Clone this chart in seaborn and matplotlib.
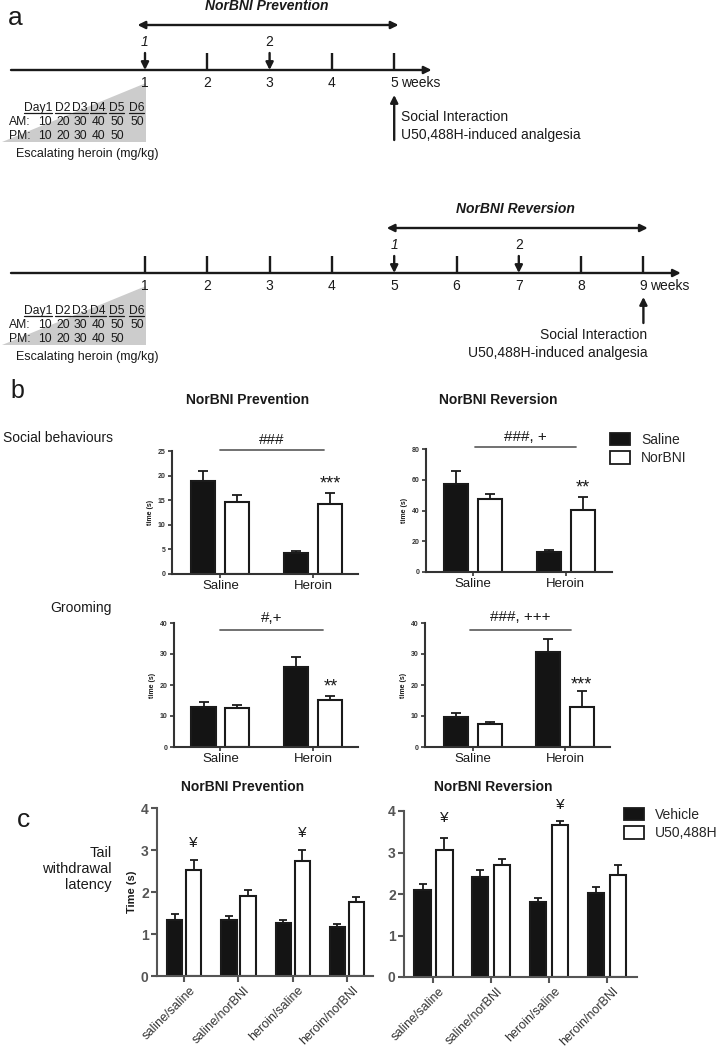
import matplotlib
matplotlib.use('Agg')
import matplotlib.pyplot as plt
import pandas as pd
import seaborn as sns
from matplotlib.patches import Patch
from matplotlib.transforms import Affine2D, ScaledTranslation

W, H = 717, 1050

# ---- a: treatment schedules ----
prev_weeks = [1, 2, 3, 4, 5]
prev_inj = [1, 3]
rev_weeks = [1, 2, 3, 4, 5, 6, 7, 8, 9]
rev_inj = [5, 7]
day_labels = ['Day1', 'D2', 'D3', 'D4', 'D5', 'D6']
am_mgkg = [10, 20, 30, 40, 50, 50]
pm_mgkg = [10, 20, 30, 40, 50]

# ---- b: social interaction ----
b_groups = ['Saline', 'Heroin']
b_treat = ['Saline', 'NorBNI']
soc_prev_sal = [18.9, 4.2]
soc_prev_sal_err = [2.0, 0.5]
soc_prev_nor = [14.7, 14.2]
soc_prev_nor_err = [1.3, 2.3]
soc_rev_sal = [57.1, 12.8]
soc_rev_sal_err = [8.8, 1.3]
soc_rev_nor = [47.6, 40.4]
soc_rev_nor_err = [3.2, 8.5]
groom_prev_sal = [13.0, 25.7]
groom_prev_sal_err = [1.6, 3.2]
groom_prev_nor = [12.7, 15.3]
groom_prev_nor_err = [0.7, 1.1]
groom_rev_sal = [9.8, 30.5]
groom_rev_sal_err = [1.3, 4.3]
groom_rev_nor = [7.4, 13.0]
groom_rev_nor_err = [0.6, 5.0]

# ---- c: tail withdrawal ----
c_groups = ['saline/saline', 'saline/norBNI', 'heroin/saline', 'heroin/norBNI']
c_treat = ['Vehicle', 'U50,488H']
tail_prev_veh = [1.33, 1.33, 1.27, 1.17]
tail_prev_veh_err = [0.14, 0.10, 0.06, 0.07]
tail_prev_u50 = [2.52, 1.90, 2.74, 1.76]
tail_prev_u50_err = [0.25, 0.14, 0.25, 0.11]
tail_rev_veh = [2.10, 2.42, 1.80, 2.02]
tail_rev_veh_err = [0.14, 0.17, 0.11, 0.16]
tail_rev_u50 = [3.06, 2.70, 3.67, 2.46]
tail_rev_u50_err = [0.30, 0.14, 0.09, 0.24]

sns.set_style('ticks')
plt.rcParams['font.family'] = ['Liberation Sans', 'DejaVu Sans']
INK = '#1a1a1a'
AX = '#333333'

fig = plt.figure(figsize=(W / 100, H / 100), dpi=100)
pix = Affine2D().scale(1 / 100, -1 / 100).translate(0, H / 100) + fig.dpi_scale_trans


def box(x0, y0, x1, y1):
    return [x0 / W, 1 - y1 / H, (x1 - x0) / W, (y1 - y0) / H]


def ftext(x, y, s, **kw):
    kw.setdefault('color', INK)
    return fig.text(x, y, s, transform=pix, **kw)


# ================= panel a =================
PXW = 62.3
ax_a = fig.add_axes(box(0, 0, W, 380))
ax_a.set_xlim(1 - 145 / PXW, 1 + (W - 145) / PXW)
ax_a.set_ylim(380, 0)
ax_a.axis('off')


def arrow(ax, x0, y0, x1, y1, style='-|>'):
    ax.annotate('', xy=(x1, y1), xytext=(x0, y0),
                arrowprops=dict(arrowstyle=style, color=INK, lw=1.7, shrinkA=0,
                                shrinkB=0, mutation_scale=11))


headers = []


def timeline(ax, weeks, inj, dy, title, side):
    y = 70 + dy
    arrow(ax, 1 + (11 - 145) / PXW, y, weeks[-1] + 0.6, y)
    ax.vlines([w for w in weeks if w not in inj], 53 + dy, y, color=INK, lw=1.7)
    for i, w in enumerate(inj):
        arrow(ax, w, 53 + dy, w, y)
        ax.text(w, 42 + dy, str(i + 1), ha='center', va='center', fontsize=10,
                style='italic' if i == 0 else 'normal', color=INK)
    for w in weeks:
        ax.text(w, 83 + dy, str(w), ha='center', va='center', fontsize=10, color=INK)
    ax.text(weeks[-1] + 0.11, 83 + dy, 'weeks', ha='left', va='center', fontsize=10,
            color=INK)
    arrow(ax, inj[0] - 0.12, 25 + dy, weeks[-1] + 0.07, 25 + dy, '<|-|>')
    ax.text((inj[0] + weeks[-1]) / 2 - 0.05, 6 + dy, title, ha='center', va='center',
            fontsize=10, fontweight='bold', style='italic', color=INK)
    # escalating heroin wedge and table
    ax.fill([-1.3, 1.02, 1.02], [142 + dy, 142 + dy, 83 + dy], color='#cccccc', lw=0)
    cols = [1 + o / PXW for o in (-93, -74.5, -57.5, -39.5, -21, -1)]
    for x, d in zip(cols, day_labels):
        headers.append(ax.text(x, 108 + dy, d, ha='right', va='center', fontsize=8.7,
                               color=INK))
    ax.text(1 + (9 - 145) / PXW, 122 + dy, 'AM:', ha='left', va='center', fontsize=8.7,
            color=INK)
    ax.text(1 + (9 - 145) / PXW, 136 + dy, 'PM:', ha='left', va='center', fontsize=8.7,
            color=INK)
    for x, v in zip(cols, am_mgkg):
        ax.text(x, 122 + dy, str(v), ha='right', va='center', fontsize=8.7, color=INK)
    for x, v in zip(cols, pm_mgkg):
        ax.text(x, 136 + dy, str(v), ha='right', va='center', fontsize=8.7, color=INK)
    ax.text(1 + (16 - 145) / PXW, 154 + dy, 'Escalating heroin (mg/kg)', ha='left',
            va='center', fontsize=9, color=INK)
    last = weeks[-1]
    if side == 'right':
        arrow(ax, last, 140, last, 95)
        ax.text(last + 0.11, 117, 'Social Interaction', ha='left', va='center',
                fontsize=10, color=INK)
        ax.text(last + 0.11, 135, 'U50,488H-induced analgesia', ha='left', va='center',
                fontsize=10, color=INK)
    else:
        arrow(ax, last, 323, last, 297)
        ax.text(last + 0.065, 335, 'Social Interaction', ha='right', va='center',
                fontsize=10, color=INK)
        ax.text(last + 0.065, 353, 'U50,488H-induced analgesia', ha='right',
                va='center', fontsize=10, color=INK)


timeline(ax_a, prev_weeks, prev_inj, 0, 'NorBNI Prevention', 'right')
timeline(ax_a, rev_weeks, rev_inj, 203, 'NorBNI Reversion', 'left')
ftext(8, 25, 'a', fontsize=19, va='baseline')


# ================= bar panels =================
def bar_panel(px, groups, treat, means, errs, ylim, yticks, xlim, width, gap, cap):
    ax = fig.add_axes(box(*px))
    n = len(groups)
    df = pd.DataFrame({'group': groups * 2,
                       'treat': [treat[0]] * n + [treat[1]] * n,
                       'value': list(means[0]) + list(means[1])})
    sns.barplot(data=df, x='group', y='value', hue='treat', order=groups,
                hue_order=treat, palette=['#141414', 'white'], edgecolor=INK,
                linewidth=1.5, width=width, gap=gap, errorbar=None, legend=False,
                ax=ax)
    for bars, e in zip(list(ax.containers), errs):
        xs = [p.get_x() + p.get_width() / 2 for p in bars]
        ys = [p.get_height() for p in bars]
        ax.errorbar(xs, ys, yerr=[[0] * len(e), e], fmt='none', ecolor=INK,
                    elinewidth=1.3, capsize=cap, capthick=1.3)
    ax.set_ylim(*ylim)
    ax.set_yticks(yticks)
    ax.set_xlim(*xlim)
    ax.set_xlabel('')
    ax.set_ylabel('')
    sns.despine(ax=ax)
    for s in ax.spines.values():
        s.set_linewidth(1.5)
        s.set_color(AX)
    return ax


def bar_x(ax, hue_i, group_i):
    p = ax.containers[hue_i][group_i]
    return p.get_x() + p.get_width() / 2


def b_style(ax):
    ax.tick_params(axis='y', labelsize=5, length=3, width=1.2, pad=1.5, colors=AX)
    ax.tick_params(axis='x', labelsize=9.5, length=3, width=1.2, pad=1.5, colors=AX,
                   labelcolor=INK)
    plt.setp(ax.get_yticklabels(), fontweight='bold')
    ax.set_ylabel('time (s)', fontsize=5, fontweight='bold', labelpad=3, color=INK)


def bracket(ax, x0, x1, y, ytxt, label):
    ax.plot([x0, x1], [y, y], color='#666666', lw=1.3, clip_on=False)
    ax.text((x0 + x1) / 2, ytxt, label, ha='center', va='center', fontsize=11,
            color=INK, clip_on=False)


def stars(ax, x, y, label, size=13, drop=4.2):
    ax.annotate(label, xy=(x, y), xytext=(0, -drop), textcoords='offset points',
                ha='center', va='center', fontsize=size, color=INK,
                annotation_clip=False)


bw, bg = 0.73, 0.29
ax1 = bar_panel((172, 451, 358, 574), b_groups, b_treat, [soc_prev_sal, soc_prev_nor],
                [soc_prev_sal_err, soc_prev_nor_err], (0, 25), [0, 5, 10, 15, 20, 25],
                (-0.52, 1.48), bw, bg, 3.6)
ax2 = bar_panel((426, 449, 612, 572), b_groups, b_treat, [soc_rev_sal, soc_rev_nor],
                [soc_rev_sal_err, soc_rev_nor_err], (0, 80), [0, 20, 40, 60, 80],
                (-0.51, 1.50), bw, bg, 3.6)
ax3 = bar_panel((174, 623, 358, 747), b_groups, b_treat,
                [groom_prev_sal, groom_prev_nor],
                [groom_prev_sal_err, groom_prev_nor_err], (0, 40), [0, 10, 20, 30, 40],
                (-0.50, 1.48), bw, bg, 3.6)
ax4 = bar_panel((425, 623, 610, 747), b_groups, b_treat, [groom_rev_sal, groom_rev_nor],
                [groom_rev_sal_err, groom_rev_nor_err], (0, 40), [0, 10, 20, 30, 40],
                (-0.52, 1.49), bw, bg, 3.6)
for ax in (ax1, ax2, ax3, ax4):
    b_style(ax)

bracket(ax1, 0.0, 1.11, 25.2, 27.3, '###')
bracket(ax2, 0.02, 1.11, 81.3, 88.0, '###, +')
bracket(ax3, 0.0, 1.10, 37.7, 41.6, '#,+')
bracket(ax4, -0.03, 1.07, 37.7, 41.9, '###, +++')
stars(ax1, bar_x(ax1, 1, 1), 19.5, '***')
stars(ax2, bar_x(ax2, 1, 1), 58.5, '**')
stars(ax3, bar_x(ax3, 1, 1), 21.3, '**')
stars(ax4, bar_x(ax4, 1, 1), 21.9, '***')

ftext(10, 398, 'b', fontsize=18, va='baseline')
ftext(248, 400, 'NorBNI Prevention', ha='center', va='center', fontsize=10,
      fontweight='bold')
ftext(498, 400, 'NorBNI Reversion', ha='center', va='center', fontsize=10,
      fontweight='bold')
ftext(3, 438, 'Social behaviours', ha='left', va='center', fontsize=10)
ftext(112, 608, 'Grooming', ha='right', va='center', fontsize=10)

leg_kw = dict(frameon=False, borderpad=0, borderaxespad=0, handlelength=1.45,
              handleheight=1.0, handletextpad=0.8, labelspacing=0.3, fontsize=10,
              loc='upper left', bbox_transform=pix)
fig.legend(handles=[Patch(facecolor='#141414', edgecolor=INK, lw=1.3, label=b_treat[0]),
                    Patch(facecolor='white', edgecolor=INK, lw=1.3, label=b_treat[1])],
           bbox_to_anchor=(610, 433), **leg_kw)

# ================= panel c =================
ax5 = bar_panel((157, 808, 373, 976), c_groups, c_treat, [tail_prev_veh, tail_prev_u50],
                [tail_prev_veh_err, tail_prev_u50_err], (0, 4), [0, 1, 2, 3, 4],
                (-0.5, 3.48), 0.70, 0.20, 2.9)
ax6 = bar_panel((404, 811, 637, 977), c_groups, c_treat, [tail_rev_veh, tail_rev_u50],
                [tail_rev_veh_err, tail_rev_u50_err], (0, 4), [0, 1, 2, 3, 4],
                (-0.51, 3.52), 0.76, 0.26, 2.9)
shift = ScaledTranslation(5 / 100, 0, fig.dpi_scale_trans)
for ax in (ax5, ax6):
    ax.tick_params(axis='y', labelsize=10, length=4, width=1.5, pad=2, colors='#555555')
    ax.tick_params(axis='x', labelsize=9, length=4, width=1.5, pad=2, colors='#555555',
                   labelcolor='#333333')
    plt.setp(ax.get_yticklabels(), fontweight='bold')
    for lbl in ax.get_xticklabels():
        lbl.set_rotation(45)
        lbl.set_ha('right')
        lbl.set_va('top')
        lbl.set_rotation_mode('anchor')
        lbl.set_transform(lbl.get_transform() + shift)
    for s in ax.spines.values():
        s.set_color('#555555')
ax5.set_ylabel('Time (s)', fontsize=8, fontweight='bold', labelpad=3, color=INK)

stars(ax5, bar_x(ax5, 1, 0), 3.19, '\u00a5', 11, 1)
stars(ax5, bar_x(ax5, 1, 2), 3.43, '\u00a5', 11, 1)
stars(ax6, bar_x(ax6, 1, 0), 3.86, '\u00a5', 11, 1)
stars(ax6, bar_x(ax6, 1, 2), 4.19, '\u00a5', 11, 1)

ftext(17, 827, 'c', fontsize=19, va='baseline')
ftext(243, 787, 'NorBNI Prevention', ha='center', va='center', fontsize=10,
      fontweight='bold')
ftext(493, 787, 'NorBNI Reversion', ha='center', va='center', fontsize=10,
      fontweight='bold')
ftext(112, 869, 'Tail\nwithdrawal\nlatency', ha='right', va='center', fontsize=10.5,
      linespacing=1.15)
fig.legend(handles=[Patch(facecolor='#141414', edgecolor=INK, lw=1.3, label=c_treat[0]),
                    Patch(facecolor='white', edgecolor=INK, lw=1.3, label=c_treat[1])],
           bbox_to_anchor=(624, 808), **leg_kw)

# underline the day headers of the dosing tables
renderer = fig.canvas.get_renderer()
inv = ax_a.transData.inverted()
for t in headers:
    bb = t.get_window_extent(renderer)
    (x0, y0), (x1, _) = inv.transform([(bb.x0, bb.y0 + 1.5), (bb.x1, bb.y0 + 1.5)])
    ax_a.plot([x0, x1], [y0, y0], color=INK, lw=0.9)

fig.savefig('out.png', dpi=100)
